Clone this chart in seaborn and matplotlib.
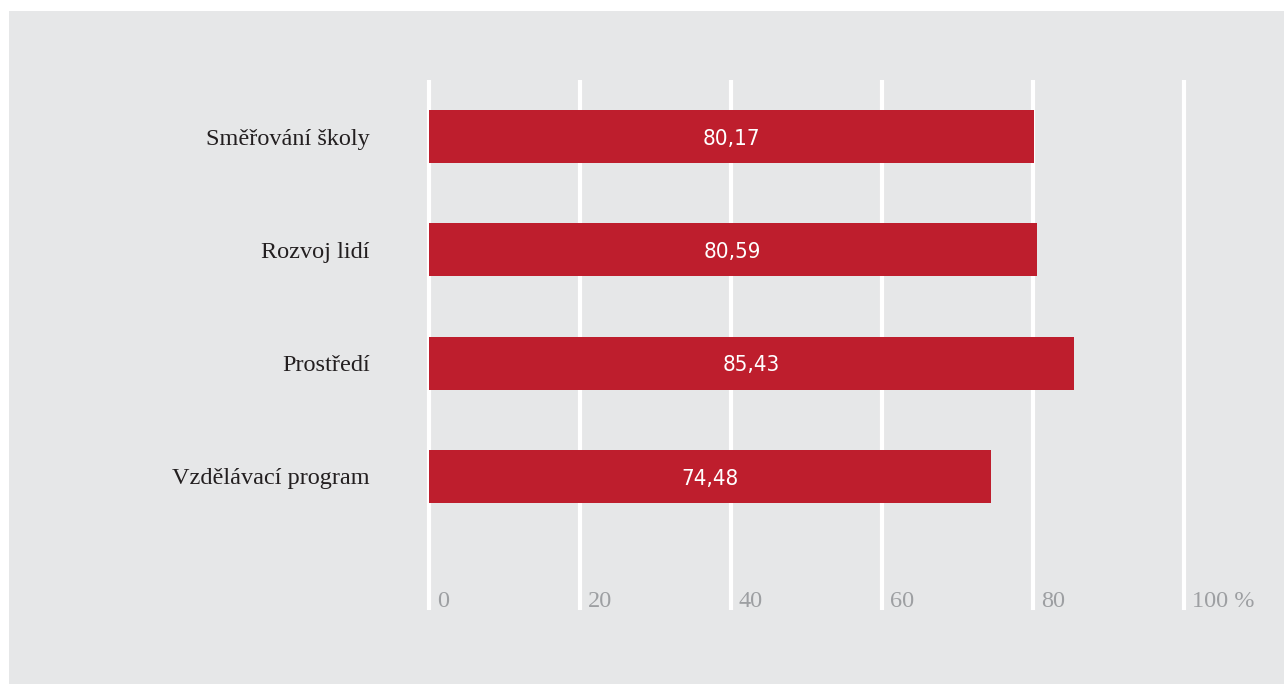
import pandas as pd
import matplotlib.pyplot as plt
import matplotlib.patches as mpatches
import seaborn as sns

categories = ["Směřování školy", "Rozvoj lidí", "Prostředí", "Vzdělávací program"]
values = [80.17, 80.59, 85.43, 74.48]
labels = ["80,17", "80,59", "85,43", "74,48"]
xticks = [0, 20, 40, 60, 80, 100]
xtick_labels = ["0", "20", "40", "60", "80", "100 %"]

bg = "#e6e7e8"
red = "#be1e2d"

sns.set_theme(style="white")
plt.rcParams['font.family'] = ['Liberation Serif', 'DejaVu Serif']

fig = plt.figure(figsize=(12.84, 6.84), dpi=100)
fig.patch.set_facecolor("white")
fig.patches.append(mpatches.Rectangle((9 / 1284, 0), 1 - 9 / 1284, 1 - 11 / 684,
                                      transform=fig.transFigure, facecolor=bg,
                                      edgecolor="none", zorder=-10))

ax = fig.add_axes([421 / 1284, 1 - 610 / 684, 838 / 1284, 530 / 684])
ax.set_zorder(5)
ax.set_facecolor("none")

df = pd.DataFrame({"cat": categories, "val": values})
sns.barplot(data=df, x="val", y="cat", orient="h", color=red, width=0.47,
            saturation=1, linewidth=0, ax=ax, zorder=3)

ax.set_xlim(-1, 110)
ax.set_ylim(4.18, -0.5)
for x in xticks:
    ax.axvline(x, color="white", lw=3, zorder=1)

for i, (v, lab) in enumerate(zip(values, labels)):
    ax.text(v / 2, i + 0.02, lab, ha="center", va="center", color="white",
            fontsize=16, family="DejaVu Sans", stretch="condensed", zorder=4)

for x, lab in zip(xticks, xtick_labels):
    ax.text(x + 1.1, 4.15, lab, ha="left", va="baseline", color="#9d9fa2",
            fontsize=17.5, zorder=4)

ax.set_xticks([])
ax.set_yticks(range(len(categories)))
ax.set_yticklabels(categories, fontsize=17.5, color="#231f20")
ax.tick_params(axis="y", length=0, pad=37)
ax.set_xlabel("")
ax.set_ylabel("")
sns.despine(ax=ax, left=True, bottom=True)

fig.savefig("out.png", dpi=100)
